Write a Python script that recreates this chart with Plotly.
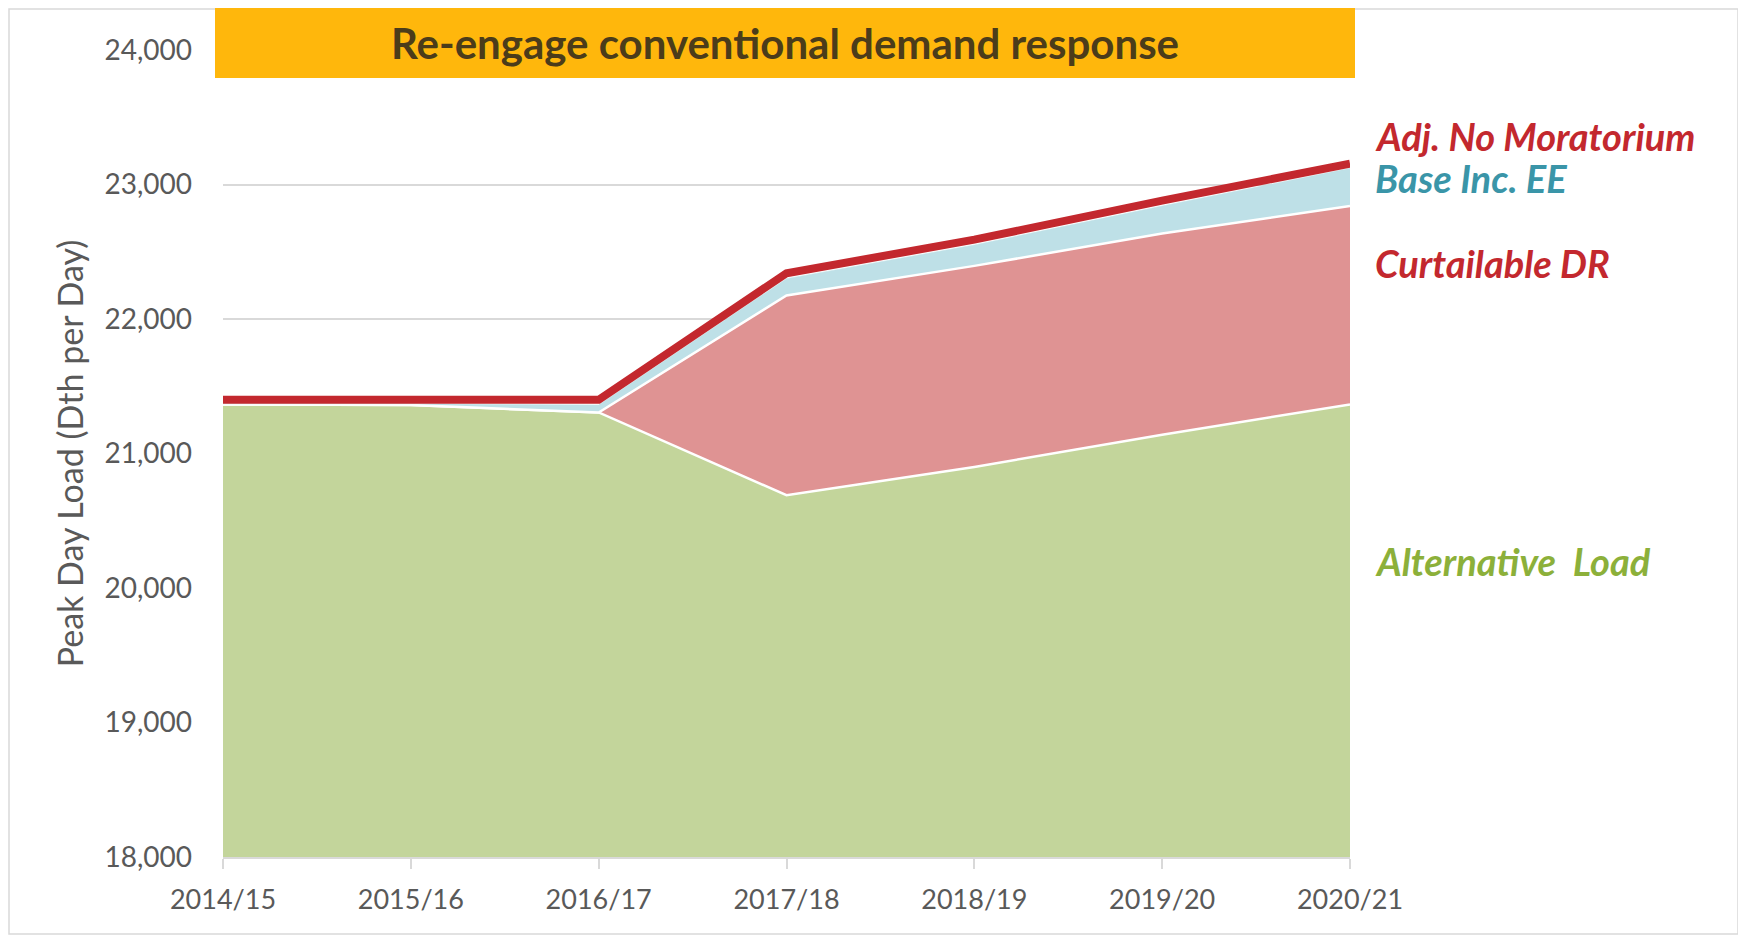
import plotly.graph_objects as go

years = ["2014/15", "2015/16", "2016/17", "2017/18", "2018/19", "2019/20", "2020/21"]
alternative_load = [21365, 21360, 21305, 20690, 20900, 21140, 21365]
curtailable_dr_top = [21365, 21360, 21305, 22175, 22395, 22635, 22840]
base_inc_ee = [21370, 21370, 21360, 22300, 22550, 22840, 23120]
adj_no_moratorium = [21400, 21400, 21400, 22340, 22590, 22880, 23155]

title_text = "Re-engage conventional demand response"
y_title = "Peak Day Load (Dth per Day)"
y_ticks = [18000, 19000, 20000, 21000, 22000, 23000, 24000]

RED = "#C3282E"
GREEN_FILL = "#C3D59B"
PINK_FILL = "#DF9393"
BLUE_FILL = "#BEE0E7"
GREEN_TXT = "#8CB03A"
TEAL_TXT = "#3A95A8"
GRAY = "#595959"

fig = go.Figure()
fig.add_trace(go.Scatter(x=years, y=alternative_load, mode="lines", fill="tozeroy",
                         fillcolor=GREEN_FILL, line=dict(color="white", width=2.5),
                         name="Alternative Load", hoverinfo="y"))
fig.add_trace(go.Scatter(x=years, y=curtailable_dr_top, mode="lines", fill="tonexty",
                         fillcolor=PINK_FILL, line=dict(color="white", width=2.5),
                         name="Curtailable DR", hoverinfo="y"))
fig.add_trace(go.Scatter(x=years, y=base_inc_ee, mode="lines", fill="tonexty",
                         fillcolor=BLUE_FILL, line=dict(color=BLUE_FILL, width=0.5),
                         name="Base Inc. EE", hoverinfo="y"))
fig.add_trace(go.Scatter(x=years, y=adj_no_moratorium, mode="lines",
                         line=dict(color=RED, width=8),
                         name="Adj. No Moratorium", hoverinfo="y"))

OFF = 8  # page body margin
W, H = 1746 - OFF, 940 - OFF
ml, mr, mt, mb = 223 - OFF, 396, 50 - OFF, 83
pw, ph = W - ml - mr, H - mt - mb

def px_x(p):  # page px -> paper
    return (p - OFF - ml) / pw

def px_y(p):
    return 1 - (p - OFF - mt) / ph

ANN = 38

fig.update_layout(
    width=W, height=H,
    margin=dict(l=ml, r=mr, t=mt, b=mb),
    paper_bgcolor="white", plot_bgcolor="white",
    showlegend=False,
    font=dict(family="Lato, sans-serif", color=GRAY),
    xaxis=dict(
        type="category", range=[0, 6], showgrid=False,
        showline=True, linecolor="#D9D9D9", linewidth=2,
        ticks="outside", ticklen=10, tickcolor="#D9D9D9", tickwidth=2,
        tickfont=dict(family="Lato, sans-serif", size=27, color=GRAY),
        ticklabelstandoff=8,
    ),
    yaxis=dict(
        range=[18000, 24000], tickvals=y_ticks, tickformat=",d",
        showgrid=True, gridcolor="rgba(0,0,0,0.15)", gridwidth=1.5,
        zeroline=False, showline=False, ticks="",
        tickfont=dict(family="Lato, sans-serif", size=28, color=GRAY),
        ticklabelstandoff=30, layer="above traces",
        title=dict(text=y_title, standoff=10,
                   font=dict(family="Lato, sans-serif", size=34, color=GRAY)),
    ),
    shapes=[
        dict(type="rect", xref="paper", yref="paper",
             x0=px_x(9), x1=px_x(1738), y0=px_y(934), y1=px_y(9),
             line=dict(color="#D9D9D9", width=1.5), fillcolor="rgba(0,0,0,0)", layer="below"),
        dict(type="rect", xref="paper", yref="paper",
             x0=px_x(215), x1=px_x(1355), y0=px_y(78), y1=px_y(8),
             line=dict(width=0), fillcolor="#FFB70C", layer="above"),
    ],
    annotations=[
        dict(text="<b>" + title_text + "</b>", xref="paper", yref="paper",
             x=px_x(785), y=px_y(43), xanchor="center", yanchor="middle", showarrow=False,
             font=dict(family="Lato, sans-serif", size=42, color="#4B3C1A")),
        dict(text="<b><i>Adj. No Moratorium</i></b>", xref="paper", yref="paper",
             x=px_x(1373), y=px_y(136), xanchor="left", yanchor="middle", showarrow=False,
             font=dict(family="Lato, sans-serif", size=ANN, color=RED)),
        dict(text="<b><i>Base Inc. EE</i></b>", xref="paper", yref="paper",
             x=px_x(1373), y=px_y(178), xanchor="left", yanchor="middle", showarrow=False,
             font=dict(family="Lato, sans-serif", size=ANN, color=TEAL_TXT)),
        dict(text="<b><i>Curtailable DR</i></b>", xref="paper", yref="paper",
             x=px_x(1373), y=px_y(263), xanchor="left", yanchor="middle", showarrow=False,
             font=dict(family="Lato, sans-serif", size=ANN, color=RED)),
        dict(text="<b><i>Alternative  Load</i></b>", xref="paper", yref="paper",
             x=px_x(1373), y=px_y(561), xanchor="left", yanchor="middle", showarrow=False,
             font=dict(family="Lato, sans-serif", size=ANN, color=GREEN_TXT)),
    ],
)

fig.write_html("out.html")
